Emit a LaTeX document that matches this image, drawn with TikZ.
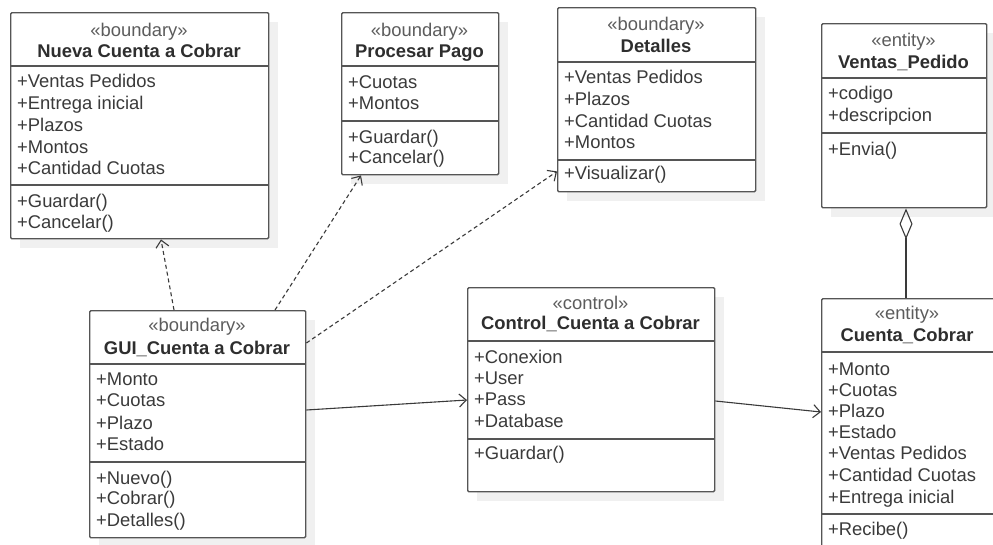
\documentclass[tikz,border=0pt]{standalone}
\usepackage{fontspec}
\setmainfont{Liberation Sans}
\usetikzlibrary{arrows.meta}
\definecolor{bordercol}{HTML}{555555}
\definecolor{shadowcol}{HTML}{F0F0F0}
\definecolor{txtcol}{HTML}{3A3A3A}
\definecolor{titlecol}{HTML}{2E2E2E}
\definecolor{stereocol}{HTML}{5C5C5C}
\definecolor{linecol}{HTML}{3A3A3A}
\newcommand\clsbox[5]{%
  \fill[shadowcol] (#2+10,#3+10) rectangle (#4+10,#5+10);
  \node[cls, anchor=north west, minimum width={(#4-#2)*1pt}, minimum height={(#5-#3)*1pt}] (#1) at (#2,#3) {};
}
\newcommand\clsdiv[3]{\draw[divline] (#1,#3) -- (#2,#3);}
\begin{document}
\begin{tikzpicture}[x=1pt,y=-1pt,
  cls/.style={draw=bordercol, line width=1.4pt, fill=white, rounded corners=1.2pt, inner sep=0pt},
  divline/.style={draw=bordercol, line width=1.4pt},
  stereo/.style={font=\fontsize{18.4}{22}\selectfont, text=stereocol, inner sep=0pt, anchor=base},
  ctitle/.style={font=\fontsize{18.4}{22}\selectfont\bfseries, text=titlecol, inner sep=0pt, anchor=base},
  attr/.style={font=\fontsize{18.4}{22}\selectfont, text=txtcol, inner sep=0pt, anchor=base west},
  dep/.style={draw=linecol, line width=1.1pt, dash pattern=on 4pt off 3pt, -{Straight Barb[length=7pt,width=13pt,line width=1.1pt]}},
  assoc/.style={draw=linecol, line width=1.1pt, -{Straight Barb[length=7pt,width=13pt,line width=1.1pt]}},
  aggr/.style={draw=linecol, line width=1.1pt, -{Diamond[open,length=31pt,width=13pt,line width=1.1pt]}}
]
\useasboundingbox (0,0) rectangle (993,544);
\fill[white] (0,0) rectangle (993,544);

% Nueva Cuenta a Cobrar
\clsbox{nueva}{10}{12}{268}{238}
\clsdiv{10}{268}{66}
\clsdiv{10}{268}{185}
\node[stereo] (nueva-s) at (139,36) {«boundary»};
\node[ctitle] (nueva-t) at (139,57) {Nueva Cuenta a Cobrar};
\node[attr] (nueva-a1) at (17,87) {+Ventas Pedidos};
\node[attr] (nueva-a2) at (17,109) {+Entrega inicial};
\node[attr] (nueva-a3) at (17,131) {+Plazos};
\node[attr] (nueva-a4) at (17,153) {+Montos};
\node[attr] (nueva-a5) at (17,174) {+Cantidad Cuotas};
\node[attr] (nueva-m1) at (17,207) {+Guardar()};
\node[attr] (nueva-m2) at (17,228) {+Cancelar()};

% Procesar Pago
\clsbox{procesar}{341}{12}{498}{174}
\clsdiv{341}{498}{66}
\clsdiv{341}{498}{121}
\node[stereo] (procesar-s) at (419.5,36) {«boundary»};
\node[ctitle] (procesar-t) at (419.5,57) {Procesar Pago};
\node[attr] (procesar-a1) at (348,88) {+Cuotas};
\node[attr] (procesar-a2) at (348,109) {+Montos};
\node[attr] (procesar-m1) at (348,143) {+Guardar()};
\node[attr] (procesar-m2) at (348,163) {+Cancelar()};

% Detalles
\clsbox{detalles}{557}{7}{755}{191}
\clsdiv{557}{755}{62}
\clsdiv{557}{755}{160}
\node[stereo] (detalles-s) at (656,30) {«boundary»};
\node[ctitle] (detalles-t) at (656,52) {Detalles};
\node[attr] (detalles-a1) at (564,83) {+Ventas Pedidos};
\node[attr] (detalles-a2) at (564,105) {+Plazos};
\node[attr] (detalles-a3) at (564,127) {+Cantidad Cuotas};
\node[attr] (detalles-a4) at (564,148) {+Montos};
\node[attr] (detalles-m1) at (564,179) {+Visualizar()};

% Ventas_Pedido
\clsbox{ventas}{821}{23}{986}{207}
\clsdiv{821}{986}{78}
\clsdiv{821}{986}{133}
\node[stereo] (ventas-s) at (903.5,46) {«entity»};
\node[ctitle] (ventas-t) at (903.5,68) {Ventas\_Pedido};
\node[attr] (ventas-a1) at (828,99) {+codigo};
\node[attr] (ventas-a2) at (828,121) {+descripcion};
\node[attr] (ventas-m1) at (828,155) {+Envia()};

% GUI_Cuenta a Cobrar
\clsbox{gui}{89}{310}{305}{537}
\clsdiv{89}{305}{364}
\clsdiv{89}{305}{462}
\node[stereo] (gui-s) at (197,331) {«boundary»};
\node[ctitle] (gui-t) at (197,354) {GUI\_Cuenta a Cobrar};
\node[attr] (gui-a1) at (96,385) {+Monto};
\node[attr] (gui-a2) at (96,406) {+Cuotas};
\node[attr] (gui-a3) at (96,429) {+Plazo};
\node[attr] (gui-a4) at (96,450) {+Estado};
\node[attr] (gui-m1) at (96,484) {+Nuevo()};
\node[attr] (gui-m2) at (96,504) {+Cobrar()};
\node[attr] (gui-m3) at (96,526) {+Detalles()};

% Control_Cuenta a Cobrar
\clsbox{control}{467}{287}{714}{491}
\clsdiv{467}{714}{341}
\clsdiv{467}{714}{439}
\node[stereo] (control-s) at (590.5,309) {«control»};
\node[ctitle] (control-t) at (590.5,329) {Control\_Cuenta a Cobrar};
\node[attr] (control-a1) at (474,363) {+Conexion};
\node[attr] (control-a2) at (474,384) {+User};
\node[attr] (control-a3) at (474,405) {+Pass};
\node[attr] (control-a4) at (474,427) {+Database};
\node[attr] (control-m1) at (474,459) {+Guardar()};

% Cuenta_Cobrar
\clsbox{cuenta}{821}{298}{1010}{570}
\clsdiv{821}{1010}{352}
\clsdiv{821}{1010}{514}
\node[stereo] (cuenta-s) at (907,319) {«entity»};
\node[ctitle] (cuenta-t) at (907,341) {Cuenta\_Cobrar};
\node[attr] (cuenta-a1) at (828,375) {+Monto};
\node[attr] (cuenta-a2) at (828,396) {+Cuotas};
\node[attr] (cuenta-a3) at (828,417) {+Plazo};
\node[attr] (cuenta-a4) at (828,438) {+Estado};
\node[attr] (cuenta-a5) at (828,459) {+Ventas Pedidos};
\node[attr] (cuenta-a6) at (828,481) {+Cantidad Cuotas};
\node[attr] (cuenta-a7) at (828,503) {+Entrega inicial};
\node[attr] (cuenta-m1) at (828,535) {+Recibe()};

% Connectors
\draw[dep] ([xshift=85pt]gui.north west) -- ([xshift=151pt]nueva.south west);
\draw[dep] ([xshift=186pt]gui.north west) -- ([xshift=20pt]procesar.south west);
\draw[dep] ([yshift=-33pt]gui.north east) -- ([yshift=21pt]detalles.south west);
\draw[assoc] ([yshift=-100pt]gui.north east) -- ([yshift=-113pt]control.north west);
\draw[assoc] ([yshift=-114pt]control.north east) -- ([yshift=-114pt]cuenta.north west);
\draw[aggr] ([xshift=85pt]cuenta.north west) -- ([xshift=85pt]ventas.south west);
\end{tikzpicture}
\end{document}
